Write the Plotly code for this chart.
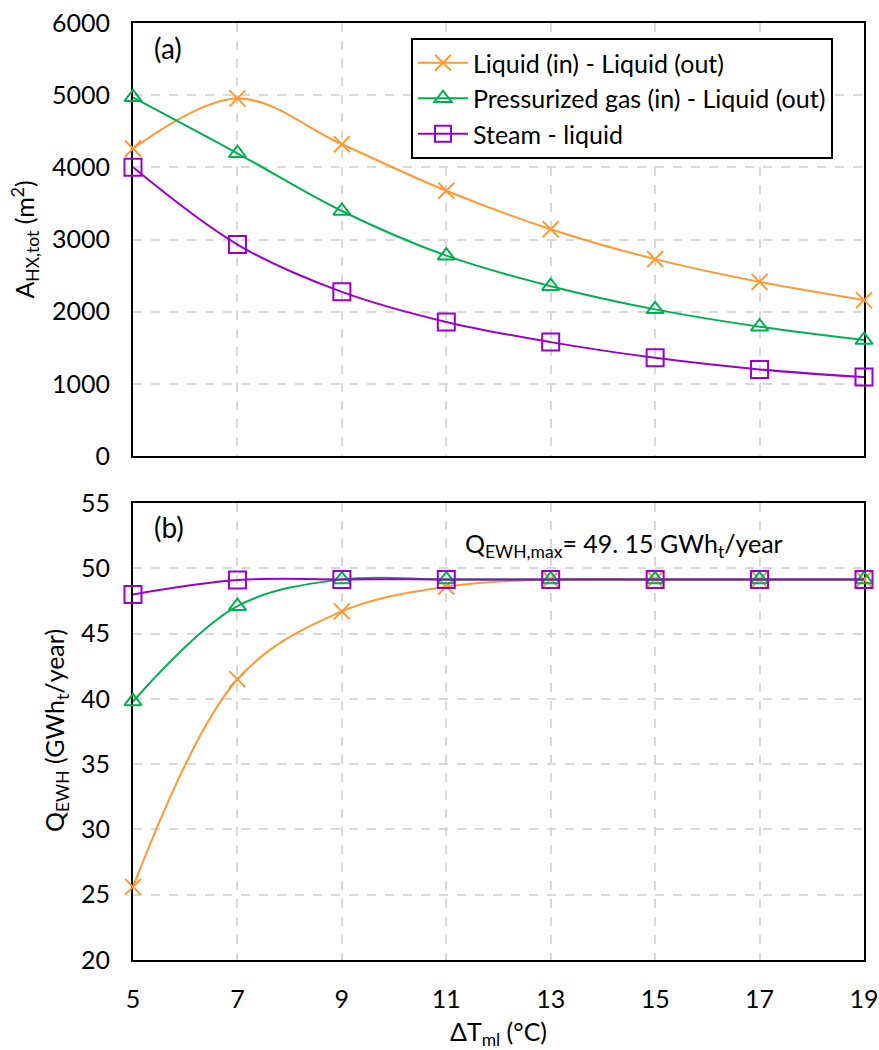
import plotly.graph_objects as go

x_dt = [5, 7, 9, 11, 13, 15, 17, 19]
x_ticks = [5, 7, 9, 11, 13, 15, 17, 19]

# (a) total heat exchanger area (m2)
area_liq_liq = [4260, 4955, 4320, 3675, 3143, 2728, 2413, 2160]
area_gas_liq = [4970, 4195, 3395, 2776, 2353, 2032, 1792, 1607]
area_steam_liq = [4000, 2930, 2275, 1858, 1578, 1360, 1200, 1093]

# (b) Q_EWH (GWh_t/year)
q_liq_liq = [25.6, 41.5, 46.7, 48.6, 49.15, 49.15, 49.15, 49.15]
q_gas_liq = [39.8, 47.1, 49.15, 49.15, 49.15, 49.15, 49.15, 49.15]
q_steam_liq = [48.0, 49.1, 49.15, 49.15, 49.15, 49.15, 49.15, 49.15]

names = ["Liquid (in) - Liquid (out)", "Pressurized gas (in) - Liquid (out)", "Steam - liquid"]
colors = ["#FF9933", "#00B050", "#9900CC"]
symbols = ["x-thin-open", "triangle-up-open", "square-open"]
sizes = [16, 15, 17]

FONT = "Lato"
FS = 25
L, R, T, B = 133, 15, 23, 90
W, H = 879, 1050
PW = W - L - R
PH = H - T - B

fig = go.Figure()

for i, ys in enumerate([area_liq_liq, area_gas_liq, area_steam_liq]):
    fig.add_trace(go.Scatter(
        x=x_dt, y=ys, name=names[i], mode="lines+markers",
        line=dict(color=colors[i], width=2, shape="spline", smoothing=1.0),
        marker=dict(symbol=symbols[i], size=sizes[i], color=colors[i],
                    line=dict(color=colors[i], width=2)),
        cliponaxis=False, xaxis="x", yaxis="y", showlegend=True))

for i, ys in enumerate([q_liq_liq, q_gas_liq, q_steam_liq]):
    fig.add_trace(go.Scatter(
        x=x_dt, y=ys, name=names[i], mode="lines+markers",
        line=dict(color=colors[i], width=2, shape="spline", smoothing=1.0),
        marker=dict(symbol=symbols[i], size=sizes[i], color=colors[i],
                    line=dict(color=colors[i], width=2)),
        cliponaxis=False, xaxis="x2", yaxis="y2", showlegend=False))

axis_common = dict(
    showline=True, linecolor="black", linewidth=2, mirror=True,
    showgrid=True, gridcolor="#D9D9D9", gridwidth=1.5, griddash="dash",
    zeroline=False, ticks="", layer="below traces", automargin=False,
    ticklabeloverflow="allow",
    tickfont=dict(family=FONT, size=FS, color="black"),
)

top_dom = [(960 - 456) / PH, 1.0]
bot_dom = [0.0, (960 - 503) / PH]


def px_x(px):
    return (px - L) / PW


def px_y(py):
    return (H - B - py) / PH


fig.update_layout(
    width=W, height=H,
    margin=dict(l=L, r=R, t=T, b=B),
    paper_bgcolor="white", plot_bgcolor="white",
    font=dict(family=FONT, size=FS, color="black"),
    xaxis=dict(axis_common, domain=[0, 1], range=[5, 19], tickvals=x_ticks,
               showticklabels=False, anchor="y"),
    yaxis=dict(axis_common, domain=top_dom, range=[0, 6000], dtick=1000,
               ticklabelstandoff=16, anchor="x",
               title=dict(text="A<sub>HX,tot</sub> (m<sup>2</sup>)",
                          font=dict(family=FONT, size=FS), standoff=10)),
    xaxis2=dict(axis_common, domain=[0, 1], range=[5, 19], tickvals=x_ticks,
                ticklabelstandoff=16, anchor="y2",
                title=dict(text="ΔT<sub>ml</sub> (°C)",
                           font=dict(family=FONT, size=FS), standoff=12)),
    yaxis2=dict(axis_common, domain=bot_dom, range=[20, 55], dtick=5,
                ticklabelstandoff=16, anchor="x2"),
    legend=dict(x=px_x(411), y=px_y(38), xanchor="left", yanchor="top",
                bordercolor="black", borderwidth=2, bgcolor="white",
                font=dict(family=FONT, size=FS, color="black"),
                itemwidth=50, tracegroupgap=0),
    annotations=[
        dict(text="Q<sub>EWH</sub> (GWh<sub>t</sub>/year)", textangle=-90,
             xref="paper", yref="paper", x=px_x(56), y=px_y(731),
             xanchor="center", yanchor="middle", showarrow=False,
             font=dict(family=FONT, size=FS, color="black")),
        dict(text="(a)", xref="paper", yref="paper", x=px_x(152), y=px_y(48),
             xanchor="left", yanchor="middle", showarrow=False,
             font=dict(family=FONT, size=28, color="black")),
        dict(text="(b)", xref="paper", yref="paper", x=px_x(152), y=px_y(527),
             xanchor="left", yanchor="middle", showarrow=False,
             font=dict(family=FONT, size=28, color="black")),
        dict(text="Q<sub>EWH,max</sub>= 49. 15 GWh<sub>t</sub>/year", xref="x2", yref="paper",
             x=14.4, y=px_y(545), xanchor="center", yanchor="middle", showarrow=False,
             font=dict(family=FONT, size=FS, color="black")),
    ],
)

fig.write_html("out.html")
